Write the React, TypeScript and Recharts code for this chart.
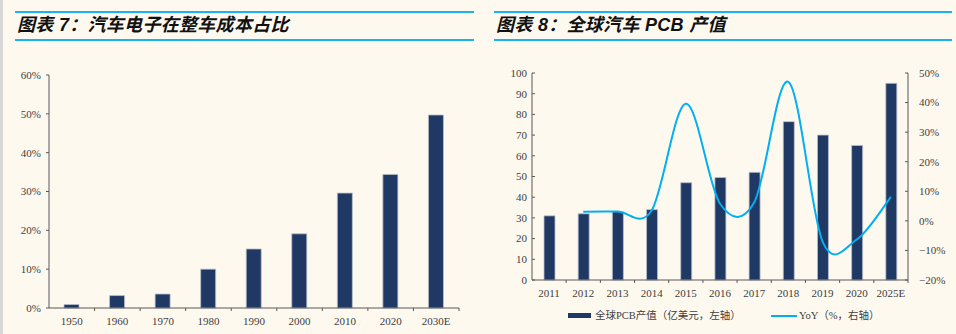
import React from "react";
import { BarChart, ComposedChart, Bar, Line, XAxis, YAxis } from "recharts";

// left chart: share of auto electronics in vehicle cost (%)
const decades = ["1950", "1960", "1970", "1980", "1990", "2000", "2010", "2020", "2030E"];
const elecShare = [0.9, 3.2, 3.6, 10, 15.2, 19.1, 29.6, 34.4, 49.7];
const shareTicks = [0, 10, 20, 30, 40, 50, 60];

// right chart: global automotive PCB output (100M USD) and YoY (%)
const pcbYears = ["2011", "2012", "2013", "2014", "2015", "2016", "2017", "2018", "2019", "2020", "2025E"];
const pcbValue = [31, 32, 33, 34, 47, 49.5, 52, 76.5, 70, 65, 95];
const pcbYoY = [null, 3.1, 3.2, 3.5, 39.6, 5.8, 6.2, 47, -7, -6.3, 8.1];
const valueTicks = [0, 10, 20, 30, 40, 50, 60, 70, 80, 90, 100];
const yoyTicks = [-20, -10, 0, 10, 20, 30, 40, 50];

const BG = "#fef9ef";
const NAVY = "#203864";
const SKY = "#00b0f0";
const AXIS = "#595959";
const TEXT = "#404040";
const SERIF = "'Liberation Serif', 'DejaVu Serif', serif";
const CJK = "'Liberation Serif', 'Noto Sans CJK SC', sans-serif";

const leftData = decades.map((d, i) => ({ name: d, share: elecShare[i] }));
const rightData = pcbYears.map((y, i) => ({ name: y, value: pcbValue[i], yoy: pcbYoY[i] }));

// smooth line like the spreadsheet one (catmull-rom through the points)
const smoothCurve = (ctx: any) => {
  let pts: number[][] = [];
  return {
    areaStart() {},
    areaEnd() {},
    lineStart() {
      pts = [];
    },
    point(x: number, y: number) {
      pts.push([+x, +y]);
    },
    lineEnd() {
      const n = pts.length;
      if (!n) return;
      ctx.moveTo(pts[0][0], pts[0][1]);
      for (let i = 0; i < n - 1; i++) {
        const p0 = pts[Math.max(i - 1, 0)];
        const p1 = pts[i];
        const p2 = pts[i + 1];
        const p3 = pts[Math.min(i + 2, n - 1)];
        ctx.bezierCurveTo(
          p1[0] + (p2[0] - p0[0]) / 6,
          p1[1] + (p2[1] - p0[1]) / 6,
          p2[0] - (p3[0] - p1[0]) / 6,
          p2[1] - (p3[1] - p1[1]) / 6,
          p2[0],
          p2[1]
        );
      }
    },
  };
};

const CatTick = (props: any) => {
  const { x, y, payload, half } = props;
  const h = payload && payload.offset > 0 ? payload.offset : half;
  return (
    <g>
      <line x1={x + h} x2={x + h} y1={y} y2={y + 3} stroke={AXIS} />
      <text x={x} y={y + 9} dy="0.71em" textAnchor="middle" fontFamily={SERIF} fontSize={11} fill={TEXT}>
        {payload.value}
      </text>
    </g>
  );
};

const LeftPctTick = (props: any) => {
  const { x, y, payload } = props;
  return (
    <g>
      <line x1={x - 3} x2={x} y1={y} y2={y} stroke={AXIS} />
      <text x={x - 8} y={y} dy="0.35em" textAnchor="end" fontFamily={SERIF} fontSize={11} fill={TEXT}>
        {payload.value}%
      </text>
    </g>
  );
};

const ValueTick = (props: any) => {
  const { x, y, payload } = props;
  return (
    <g>
      <line x1={x} x2={x + 3} y1={y} y2={y} stroke={AXIS} />
      <text x={x - 5} y={y} dy="0.35em" textAnchor="end" fontFamily={SERIF} fontSize={11} fill={TEXT}>
        {payload.value}
      </text>
    </g>
  );
};

const YoYTick = (props: any) => {
  const { x, y, payload } = props;
  const v = payload.value;
  return (
    <g>
      <line x1={x - 3} x2={x} y1={y} y2={y} stroke={AXIS} />
      <text x={x + 11} y={y} dy="0.35em" textAnchor="start" fontFamily={SERIF} fontSize={11} fill={TEXT}>
        {v < 0 ? `\u2212${-v}%` : `${v}%`}
      </text>
    </g>
  );
};

const Title: React.FC<{ left: number; width: number; text: string }> = ({ left, width, text }) => (
  <>
    <div style={{ position: "absolute", left, top: 11, width, height: 2, background: "#1ab3ee" }} />
    <div
      style={{
        position: "absolute",
        left: left + 2,
        top: 13,
        height: 24,
        lineHeight: "24px",
        fontFamily: "'Liberation Sans', 'Noto Sans CJK SC', sans-serif",
        fontWeight: 700,
        fontStyle: "italic",
        fontSize: 18,
        letterSpacing: 0.3,
        color: "#111",
        whiteSpace: "nowrap",
      }}
    >
      {text}
    </div>
    <div style={{ position: "absolute", left, top: 39, width, height: 2, background: "#1ab3ee" }} />
  </>
);

export default function App() {
  const leftHalf = (478 - 9 - 40 - 19) / decades.length / 2;
  const rightHalf = (478 - 14 - 40 - 8 - 40) / pcbYears.length / 2;

  return (
    <div style={{ position: "absolute", left: 0, top: 0, width: 956, height: 334, background: BG, overflow: "hidden" }}>
      <div style={{ position: "absolute", left: 0, top: 0, width: 3, height: 334, background: "#d6d6d6" }} />

      <Title left={15} width={459} text="图表 7：汽车电子在整车成本占比" />
      <Title left={494} width={458} text="图表 8：全球汽车 PCB 产值" />

      <div style={{ position: "absolute", left: 0, top: 0 }}>
        <BarChart width={478} height={334} data={leftData} margin={{ top: 75, right: 19, bottom: 6, left: 9 }}>
          <XAxis
            dataKey="name"
            height={20}
            tickSize={0}
            tickMargin={0}
            axisLine={{ stroke: AXIS }}
            tick={(p: any) => <CatTick {...p} half={leftHalf} />}
            interval={0}
          />
          <YAxis
            width={40}
            domain={[0, 60]}
            ticks={shareTicks}
            tickSize={0}
            tickMargin={0}
            axisLine={{ stroke: AXIS }}
            tick={(p: any) => <LeftPctTick {...p} />}
            interval={0}
          />
          <Bar dataKey="share" fill={NAVY} stroke="#b9bfca" strokeWidth={0.8} barSize={15} isAnimationActive={false} />
        </BarChart>
      </div>

      <div style={{ position: "absolute", left: 478, top: 0 }}>
        <ComposedChart width={478} height={334} data={rightData} margin={{ top: 73, right: 8, bottom: 34, left: 14 }}>
          <XAxis
            dataKey="name"
            height={20}
            tickSize={0}
            tickMargin={0}
            axisLine={{ stroke: AXIS }}
            tick={(p: any) => <CatTick {...p} half={rightHalf} />}
            interval={0}
          />
          <YAxis
            yAxisId="left"
            width={40}
            domain={[0, 100]}
            ticks={valueTicks}
            tickSize={0}
            tickMargin={0}
            axisLine={{ stroke: AXIS }}
            tick={(p: any) => <ValueTick {...p} />}
            interval={0}
          />
          <YAxis
            yAxisId="right"
            orientation="right"
            width={40}
            domain={[-20, 50]}
            ticks={yoyTicks}
            tickSize={0}
            tickMargin={0}
            axisLine={{ stroke: AXIS }}
            tick={(p: any) => <YoYTick {...p} />}
            interval={0}
          />
          <Bar yAxisId="left" dataKey="value" fill={NAVY} stroke="#b9bfca" strokeWidth={0.8} barSize={11} isAnimationActive={false} />
          <Line
            yAxisId="right"
            dataKey="yoy"
            type={smoothCurve as any}
            stroke={SKY}
            strokeWidth={2}
            dot={false}
            activeDot={false}
            isAnimationActive={false}
          />
        </ComposedChart>
      </div>

      <div style={{ position: "absolute", left: 568, top: 313, width: 23, height: 5, background: NAVY }} />
      <div style={{ position: "absolute", left: 595, top: 308, lineHeight: "16px", fontFamily: CJK, fontSize: 10.5, color: TEXT, whiteSpace: "nowrap" }}>
        全球PCB产值（亿美元，左轴）
      </div>
      <div style={{ position: "absolute", left: 771, top: 315, width: 26, height: 2, background: SKY }} />
      <div style={{ position: "absolute", left: 799, top: 308, lineHeight: "16px", fontFamily: CJK, fontSize: 10.5, color: TEXT, whiteSpace: "nowrap" }}>
        YoY（%，右轴）
      </div>
    </div>
  );
}
